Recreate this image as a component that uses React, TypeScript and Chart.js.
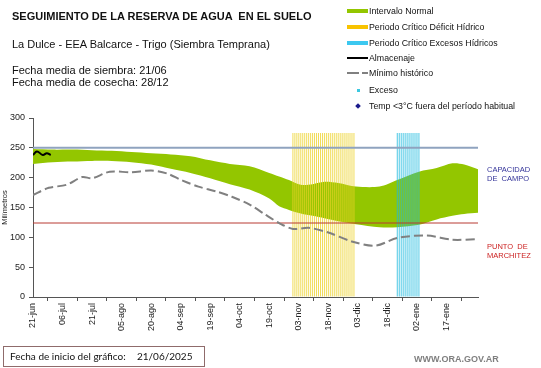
import React, { useEffect, useRef } from 'react';
import { Chart, registerables } from 'chart.js';

Chart.register(...registerables);

// ---- data ----
const xTickLabels = ['21-jun', '06-jul', '21-jul', '05-ago', '20-ago', '04-sep', '19-sep', '04-oct', '19-oct', '03-nov', '18-nov', '03-dic', '18-dic', '02-ene', '17-ene'];
const xTickStep = 15;
const xMax = 226;

const bandDays = [0, 10, 20, 30, 40, 50, 60, 70, 80, 90, 100, 110, 120, 125, 130, 136, 142, 148, 155, 164, 176, 185, 196, 205, 213, 219, 226];
const bandUpper = [248, 247, 247, 246, 245, 243, 241, 239, 236, 229, 223, 219, 208, 202, 196, 188, 189, 193, 191, 185, 185, 196, 210, 216, 224, 222, 214];
const bandLower = [223, 226, 227, 228, 228, 226, 222, 215, 208, 199, 189, 180, 165, 152, 146, 140, 136, 132, 127, 122, 117, 117, 121, 130, 136, 139, 141];

const minDays = [0, 8, 17, 25, 30, 39, 50, 60, 68, 76, 84, 93, 101, 110, 118, 125, 132, 140, 150, 162, 174, 185, 200, 213, 226];
const minValues = [171, 183, 188, 201, 199, 210, 209, 212, 207, 195, 185, 177, 168, 155, 138, 124, 114, 116, 108, 93, 86, 99, 103, 96, 97];

const storageDays = [0, 2, 5, 7, 9];
const storageValues = [238, 244, 238, 241, 238];

const deficitPeriod = [132, 163];
const excessPeriod = [185, 196];
const periodTop = 275;

const fieldCapacity = 250;
const wiltingPoint = 124;

const FONT = "'Liberation Sans', Arial, sans-serif";

function pts(xs: number[], ys: number[]) {
  return xs.map((x, i) => ({ x, y: ys[i] }));
}
function periodBars(range: number[]) {
  const out: { x: number; y: number }[] = [];
  for (let d = range[0]; d <= range[1]; d++) out.push({ x: d, y: periodTop });
  return out;
}

type TProps = { left: number; top: number; size: number; lh: number; color?: string; bold?: boolean; family?: string; children: React.ReactNode };
const T = ({ left, top, size, lh, color = '#111', bold = false, family = FONT, children }: TProps) => (
  <div style={{ position: 'absolute', left, top, fontSize: size, lineHeight: lh + 'px', color, fontWeight: bold ? 'bold' : 'normal', fontFamily: family, whiteSpace: 'pre' }}>{children}</div>
);

export default function App() {
  const ref = useRef<HTMLCanvasElement | null>(null);
  useEffect(() => {
    if (!ref.current) return;
    const chart = new Chart(ref.current, {
      type: 'line',
      data: {
        datasets: [
          { data: pts(bandDays, bandUpper), borderColor: 'rgba(0,0,0,0)', borderWidth: 0, backgroundColor: '#93c600', fill: '+1', pointRadius: 0, tension: 0.3, order: 10 } as any,
          { data: pts(bandDays, bandLower), borderColor: 'rgba(0,0,0,0)', borderWidth: 0, fill: false, pointRadius: 0, tension: 0.3, order: 9 },
          { type: 'bar', data: periodBars(deficitPeriod), backgroundColor: 'rgba(236,210,40,0.8)', borderWidth: 0, grouped: false, barPercentage: 1, categoryPercentage: 0.5, order: 5 } as any,
          { type: 'bar', data: periodBars(excessPeriod), backgroundColor: 'rgba(30,186,222,0.8)', borderWidth: 0, grouped: false, barPercentage: 1, categoryPercentage: 0.5, order: 5 } as any,
          { data: [{ x: 0, y: fieldCapacity }, { x: xMax, y: fieldCapacity }], borderColor: '#8fa3bf', borderWidth: 2, pointRadius: 0, fill: false, order: 3 },
          { data: [{ x: 0, y: wiltingPoint }, { x: xMax, y: wiltingPoint }], borderColor: '#b83a32', borderWidth: 1, pointRadius: 0, fill: false, order: 3 },
          { data: pts(minDays, minValues), borderColor: '#808080', borderWidth: 2, borderDash: [9, 4], pointRadius: 0, fill: false, tension: 0.3, order: 2 },
          { data: pts(storageDays, storageValues), borderColor: '#000000', borderWidth: 2, pointRadius: 0, fill: false, tension: 0.4, order: 1 },
        ],
      },
      options: {
        responsive: false,
        animation: false,
        devicePixelRatio: 1,
        layout: { padding: { top: 118, right: 63, bottom: 0, left: 0 } },
        plugins: { legend: { display: false }, tooltip: { enabled: false }, title: { display: false } },
        scales: {
          x: {
            type: 'linear',
            min: 0,
            max: xMax,
            offset: false,
            grid: { display: true, drawOnChartArea: false, drawTicks: true, tickLength: 4, color: '#555' },
            border: { display: true, color: '#555', width: 1 },
            ticks: {
              stepSize: xTickStep,
              includeBounds: false,
              autoSkip: false,
              minRotation: 90,
              maxRotation: 90,
              padding: 2,
              color: '#222',
              font: { family: FONT, size: 9 },
              callback: (v: any) => {
                const n = Number(v);
                const i = Math.round(n / xTickStep);
                return n % xTickStep === 0 && xTickLabels[i] ? xTickLabels[i] : null;
              },
            },
            afterFit: (s: any) => { s.height = 71; },
          },
          y: {
            min: 0,
            max: 300,
            grid: { display: true, drawOnChartArea: false, drawTicks: true, tickLength: 4, color: '#555' },
            border: { display: true, color: '#555', width: 1 },
            ticks: { stepSize: 50, padding: 4, color: '#222', font: { family: FONT, size: 9 } },
            title: { display: true, text: 'Milímetros', color: '#222', font: { family: FONT, size: 7.5 }, padding: { top: 0, bottom: 2 } },
            afterFit: (s: any) => { s.width = 33; },
          },
        },
      } as any,
    });
    return () => chart.destroy();
  }, []);

  return (
    <div style={{ position: 'absolute', left: 0, top: 0, width: 541, height: 368, background: '#fff', overflow: 'hidden' }}>
      <canvas ref={ref} width={541} height={368} style={{ position: 'absolute', left: 0, top: 0, width: 541, height: 368 }} />

      <T left={12} top={10} size={11} lh={12} bold>SEGUIMIENTO DE LA RESERVA DE AGUA  EN EL SUELO</T>
      <T left={12} top={38} size={11} lh={12}>La Dulce - EEA Balcarce - Trigo (Siembra Temprana)</T>
      <T left={12} top={64} size={11} lh={12}>Fecha media de siembra: 21/06</T>
      <T left={12} top={76} size={11} lh={12}>Fecha media de cosecha: 28/12</T>

      {/* legend */}
      <div style={{ position: 'absolute', left: 347, top: 9, width: 21, height: 4, background: '#93c600' }} />
      <div style={{ position: 'absolute', left: 347, top: 25, width: 21, height: 4, background: '#f8c300' }} />
      <div style={{ position: 'absolute', left: 347, top: 41, width: 21, height: 4, background: '#3cc8f0' }} />
      <div style={{ position: 'absolute', left: 347, top: 57, width: 21, height: 2, background: '#000' }} />
      <div style={{ position: 'absolute', left: 347, top: 72, width: 12, height: 2, background: '#808080' }} />
      <div style={{ position: 'absolute', left: 362, top: 72, width: 6, height: 2, background: '#808080' }} />
      <div style={{ position: 'absolute', left: 357, top: 89, width: 3, height: 3, background: '#3cc8e0' }} />
      <div style={{ position: 'absolute', left: 356, top: 104, width: 4, height: 4, background: '#1a1a8c', transform: 'rotate(45deg)' }} />
      <T left={369} top={6} size={8.8} lh={10}>Intervalo Normal</T>
      <T left={369} top={22} size={8.8} lh={10}>Periodo Crítico Déficit Hídrico</T>
      <T left={369} top={38} size={8.8} lh={10}>Periodo Crítico Excesos Hídricos</T>
      <T left={369} top={53} size={8.8} lh={10}>Almacenaje</T>
      <T left={369} top={68} size={8.8} lh={10}>Mínimo histórico</T>
      <T left={369} top={85} size={8.8} lh={10}>Exceso</T>
      <T left={369} top={101} size={8.8} lh={10}>Temp &lt;3°C fuera del período habitual</T>

      {/* right side labels */}
      <T left={487} top={165} size={7.5} lh={9} color="#333399">CAPACIDAD</T>
      <T left={487} top={174} size={7.5} lh={9} color="#333399">DE  CAMPO</T>
      <T left={487} top={242} size={7.5} lh={9} color="#cc2222">PUNTO  DE</T>
      <T left={487} top={251} size={7.5} lh={9} color="#cc2222">MARCHITEZ</T>

      {/* bottom */}
      <div style={{ position: 'absolute', left: 3, top: 346, width: 200, height: 19, border: '1px solid #8f6b6b' }} />
      <T left={10} top={350} size={10} lh={12} family="Lato, 'Open Sans', sans-serif">Fecha de inicio del gráfico:</T>
      <T left={137} top={350} size={10} lh={12} family="Lato, 'Open Sans', sans-serif">21/06/2025</T>
      <T left={414} top={354} size={9} lh={11} color="#7f7f7f" bold>WWW.ORA.GOV.AR</T>
    </div>
  );
}
